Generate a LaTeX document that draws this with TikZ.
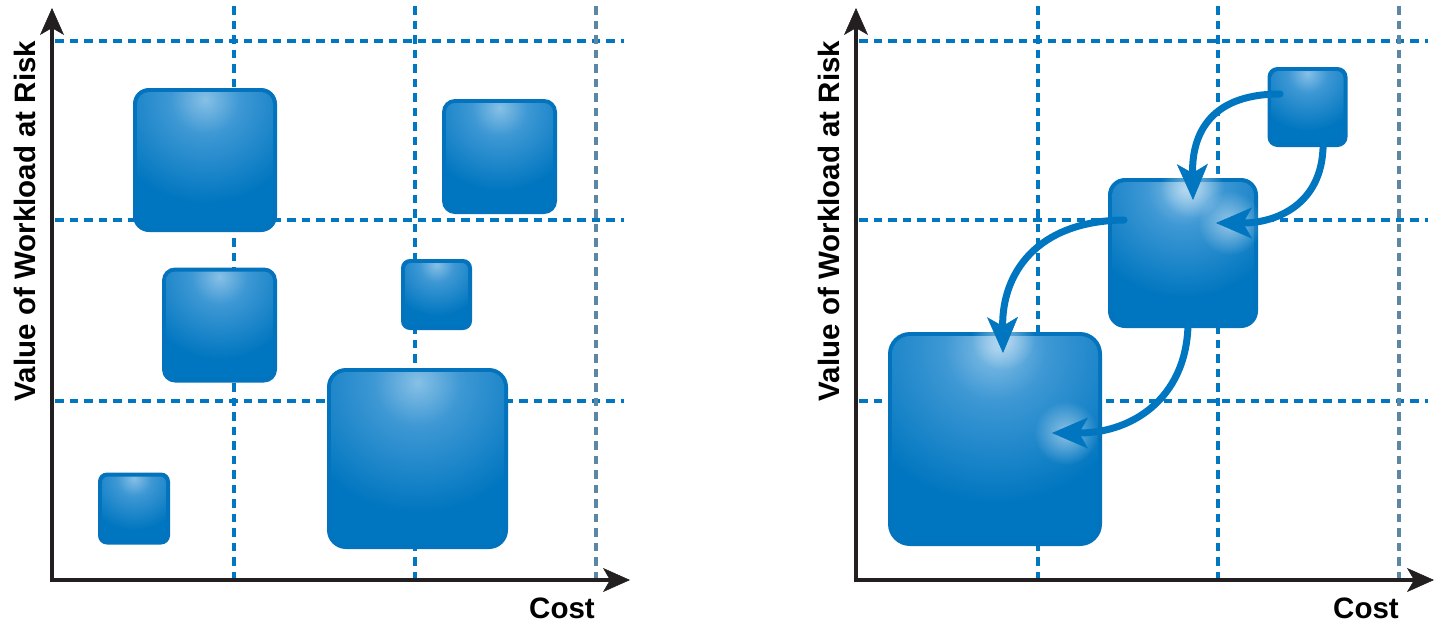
\documentclass[tikz,border=0pt]{standalone}
\usepackage{fontspec}
\setmainfont{Liberation Sans}
\usetikzlibrary{arrows.meta,calc,fadings}
\definecolor{base}{RGB}{0,118,192}
\definecolor{rim}{RGB}{2,115,188}
\definecolor{hl}{RGB}{135,192,230}
\definecolor{hlm}{RGB}{62,152,212}
\definecolor{axisc}{RGB}{35,31,32}
\definecolor{gridc}{RGB}{0,119,192}
\definecolor{gridg}{RGB}{92,134,164}
\pgfdeclareradialshading{boxglow}{\pgfpointorigin}{color(0bp)=(hl); color(6bp)=(hlm); color(18bp)=(base); color(50bp)=(base)}
\tikzfading[name=glowfade, inner color=transparent!0, outer color=transparent!100]
\tikzset{
  boxsty/.style={rectangle, fill=rim, draw=none, inner sep=0pt, outer sep=0pt},
  gridline/.style={draw=gridc, line width=3.5pt, dash pattern=on 8.5pt off 6pt},
  gridgray/.style={draw=gridg, line width=3.5pt, dash pattern=on 8.5pt off 6pt},
  axisline/.style={draw=axisc, line width=4.5pt, -{Stealth[length=27pt,width=24pt,inset=7pt,line width=0.5pt]}},
  flow/.style={draw=base, line width=7pt, line cap=round, -{Stealth[length=36pt,width=31pt,inset=9pt,line width=0.5pt]}},
  glow/.style={fill=white, path fading=glowfade, fill opacity=0.5},
  lab/.style={font=\fontsize{29.5pt}{32pt}\selectfont\bfseries, text=black, inner sep=0pt}
}
% #1 name, #2 center, #3 size, #4 corner radius, #5 inner radius
\newcommand\gbox[5]{%
  \node[boxsty, minimum size=#3pt, rounded corners=#4pt] (#1) at (#2) {};
  \begin{scope}
    \clip[rounded corners=#5pt] ($(#1.north west)+(4pt,-4pt)$) rectangle ($(#1.south east)+(-4pt,4pt)$);
    \shade[shading=boxglow] ($(#1.north)!0.08!(#1.south)$) circle (#3pt);
  \end{scope}
}
\begin{document}
\begin{tikzpicture}[x=1pt,y=-1pt]
\useasboundingbox (0,0) rectangle (1440,622);

% ---------- left panel ----------
\coordinate (Lo) at (52,580);
\coordinate (Lx) at (630,580);
\coordinate (Ly) at (52,8);
\foreach \y in {41,220,401} {\draw[gridline] (55,\y) -- (624,\y);}
\foreach \x in {234,415} {\draw[gridline] (\x,6) -- (\x,578);}
\draw[gridgray] (596,6) -- (596,578);

\gbox{l1}{205,160}{144}{16}{12}
\gbox{l2}{499.5,156.5}{115}{13}{9}
\gbox{l3}{219.5,325}{115}{13}{9}
\gbox{l4}{436.5,294.5}{71}{9}{6}
\gbox{l5}{417.5,458.5}{181}{19}{15}
\gbox{l6}{134,508.5}{72}{9}{6}

\draw[axisline] (52,582.25) -- (Ly);
\draw[axisline] (49.75,580) -- (Lx);
\node[lab, rotate=90, anchor=base] (Lylab) at (35,221) {Value of Workload at Risk};
\node[lab, anchor=base] (Lxlab) at (562,618) {Cost};

% ---------- right panel ----------
\coordinate (Ro) at (856,580);
\coordinate (Rx) at (1434,580);
\coordinate (Ry) at (856,8);
\foreach \y in {41,220,401} {\draw[gridline] (859,\y) -- (1428,\y);}
\foreach \x in {1038,1218} {\draw[gridline] (\x,6) -- (\x,578);}
\draw[gridgray] (1399,6) -- (1399,578);

\gbox{rA}{1307.5,107}{80}{10}{7}
\gbox{rB}{1183,253}{150}{17}{13}
\gbox{rC}{995,439}{214}{22}{18}

\draw[axisline] (856,582.25) -- (Ry);
\draw[axisline] (853.75,580) -- (Rx);
\node[lab, rotate=90, anchor=base] (Rylab) at (839,221) {Value of Workload at Risk};
\node[lab, anchor=base] (Rxlab) at (1366,618) {Cost};

% glows
\fill[glow] (1192,186) circle (32pt);
\fill[glow] (1230,223) circle (32pt);
\fill[glow] (1003,338) circle (32pt);
\fill[glow] (1066,433) circle (32pt);

% arrows
\coordinate (a1s) at (1280,94);
\coordinate (a1e) at (1193,200);
\coordinate (a2s) at (1323,138);
\coordinate (a2e) at (1216,223);
\coordinate (a3s) at (1124,220);
\coordinate (a3e) at (1003,353);
\coordinate (a4s) at (1188,317);
\coordinate (a4e) at (1052,433);
\draw[flow] (a1s) .. controls (1205,94) and (1192,140) .. (a1e);
\draw[flow] (a2s) .. controls (1326,205) and (1275,223) .. (a2e);
\draw[flow] (a3s) .. controls (1035,221) and (1002,275) .. (a3e);
\draw[flow] (a4s) .. controls (1190,395) and (1135,433) .. (a4e);
\end{tikzpicture}
\end{document}
